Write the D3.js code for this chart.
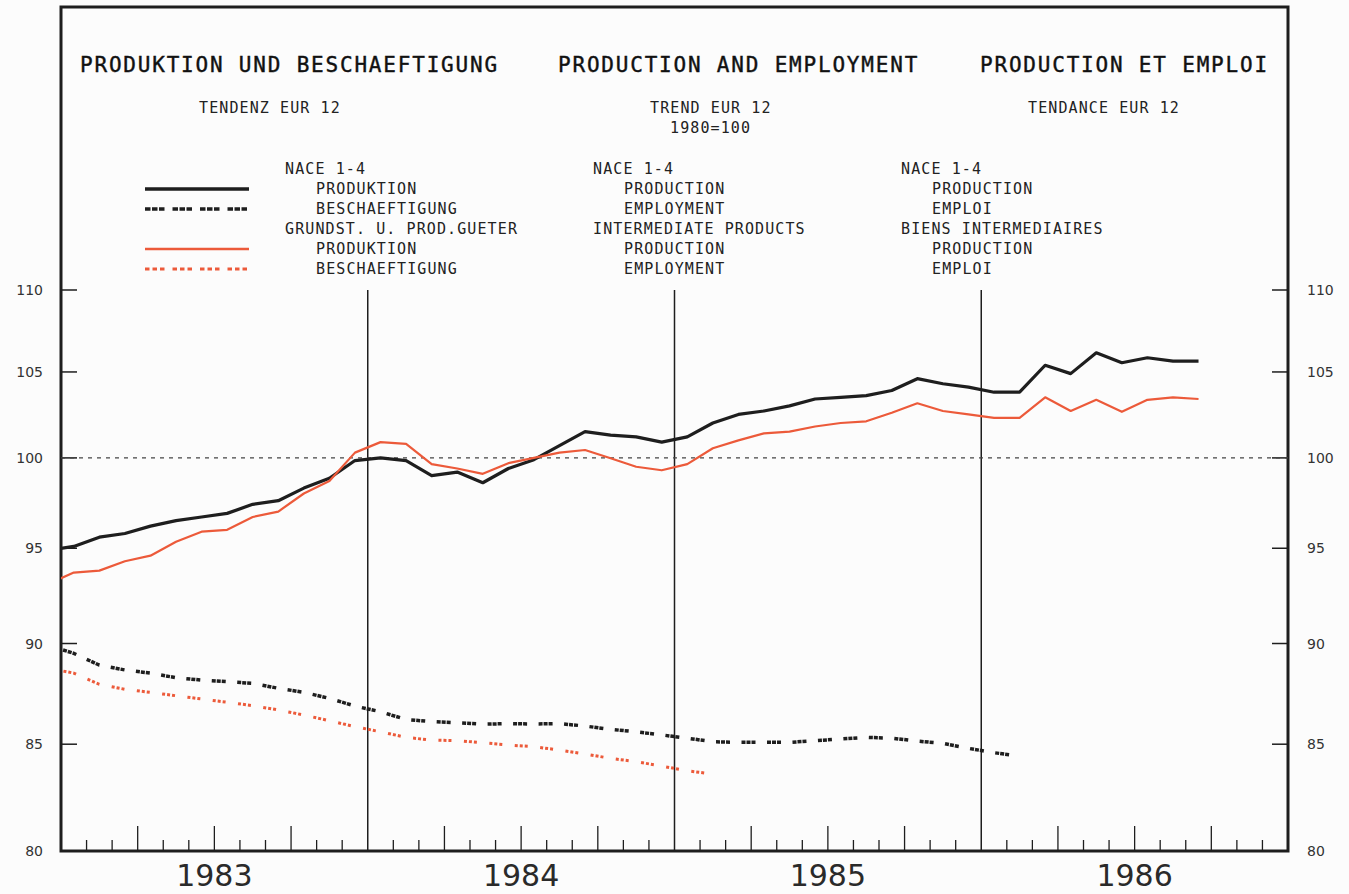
<!DOCTYPE html>
<html>
<head>
<meta charset="utf-8">
<style>

body {
  margin: 0;
  background: #fcfcfc;
  width: 1349px;
  height: 894px;
  overflow: hidden;
}

.plotter {
  font-family: "DejaVu Sans Mono", monospace;
  fill: #222;
}

.ytick text {
  font-family: "DejaVu Sans", sans-serif;
  font-size: 14px;
  fill: #333;
}

.year {
  font-family: "DejaVu Sans", sans-serif;
  font-size: 30px;
  fill: #2a2a2a;
}

</style>
</head>

<body>
<svg width="1349" height="894"></svg>
<script src="https://d3js.org/d3.v7.min.js"></script>
<script>

// monthly values, first value = Dec 1982 (month index -1)
var prodNace = [94.9,
  95.1, 95.6, 95.8, 96.2, 96.5, 96.7, 96.9, 97.4, 97.6, 98.3, 98.85, 99.85,
  100.0, 99.85, 99.0, 99.2, 98.6, 99.4, 99.9, 100.7, 101.5, 101.3, 101.2, 100.9,
  101.2, 102.0, 102.5, 102.7, 103.0, 103.4, 103.5, 103.6, 103.9, 104.6, 104.3, 104.1,
  103.8, 103.8, 105.4, 104.9, 106.15, 105.55, 105.85, 105.65, 105.65];

var empNace = [89.9,
  89.5, 88.9, 88.66, 88.5, 88.27, 88.15, 88.07, 87.99, 87.74, 87.54, 87.24, 86.86,
  86.58, 86.2, 86.1, 86.04, 85.97, 86.0, 85.98, 86.0, 85.88, 85.72, 85.6, 85.45,
  85.29, 85.12, 85.09, 85.09, 85.09, 85.17, 85.25, 85.33, 85.29, 85.15, 85.04, 84.8,
  84.59, 84.43];

var prodInter = [93.1,
  93.7, 93.8, 94.3, 94.6, 95.35, 95.9, 96.0, 96.7, 97.0, 98.0, 98.7, 100.3,
  100.9, 100.8, 99.65, 99.4, 99.1, 99.7, 100.0, 100.3, 100.45, 99.98, 99.5, 99.3,
  99.65, 100.55, 101.0, 101.4, 101.5, 101.8, 102.0, 102.1, 102.6, 103.15, 102.7, 102.5,
  102.3, 102.3, 103.5, 102.7, 103.35, 102.65, 103.35, 103.5, 103.4];

var empInter = [88.75,
  88.5, 87.94, 87.69, 87.54, 87.37, 87.21, 87.05, 86.88, 86.67, 86.42, 86.14, 85.85,
  85.6, 85.33, 85.2, 85.17, 85.07, 84.96, 84.88, 84.72, 84.53, 84.32, 84.16, 83.95,
  83.73, 83.57];

var years = ["1983", "1984", "1985", "1986"];
var yTicks = [80, 85, 90, 95, 100, 105, 110];

var titles = ["PRODUKTION UND BESCHAEFTIGUNG", "PRODUCTION AND EMPLOYMENT", "PRODUCTION ET EMPLOI"];
var subtitles = ["TENDENZ EUR 12", "TREND EUR 12", "TENDANCE EUR 12"];
var legendDe = ["NACE 1-4", "PRODUKTION", "BESCHAEFTIGUNG", "GRUNDST. U. PROD.GUETER", "PRODUKTION", "BESCHAEFTIGUNG"];
var legendEn = ["NACE 1-4", "PRODUCTION", "EMPLOYMENT", "INTERMEDIATE PRODUCTS", "PRODUCTION", "EMPLOYMENT"];
var legendFr = ["NACE 1-4", "PRODUCTION", "EMPLOI", "BIENS INTERMEDIAIRES", "PRODUCTION", "EMPLOI"];

var svg = d3.select("svg"),
    plotLeft = 61, plotRight = 1288, plotTop = 7, plotBottom = 851;

var ink = "#1e1e1e", red = "#ec5a3a";

// months since Jan 1983, 4 years
var x = d3.scaleLinear().domain([0, 48]).range([plotLeft, plotRight]);
// the original is drawn on a log scale
var y = d3.scaleLog().domain([80, 110]).range([plotBottom, 290]);

svg.append("defs").append("clipPath")
    .attr("id", "clip")
  .append("rect")
    .attr("x", plotLeft).attr("y", plotTop)
    .attr("width", plotRight - plotLeft).attr("height", plotBottom - plotTop);

// titles
svg.selectAll(".title")
    .data(titles)
  .enter().append("text")
    .attr("class", "plotter")
    .attr("x", function(d, i) { return [80, 558, 980][i]; })
    .attr("y", 72)
    .style("font-size", "21px")
    .style("letter-spacing", "1.8px")
    .style("fill", "#111")
    .style("stroke", "#111")
    .style("stroke-width", 0.4)
    .text(function(d) { return d; });

svg.selectAll(".sub")
    .data(subtitles)
  .enter().append("text")
    .attr("class", "plotter")
    .attr("x", function(d, i) { return [199, 650, 1028][i]; })
    .attr("y", 113)
    .style("font-size", "15px")
    .style("letter-spacing", "1.1px")
    .text(function(d) { return d; });

svg.append("text")
    .attr("class", "plotter")
    .attr("x", 670).attr("y", 133)
    .style("font-size", "15px")
    .style("letter-spacing", "1.1px")
    .text("1980=100");

// legend texts
function legendColumn(items, x0) {
  svg.append("g").selectAll("text")
      .data(items)
    .enter().append("text")
      .attr("class", "plotter")
      .attr("x", function(d, i) { return (i === 0 || i === 3) ? x0 : x0 + 31; })
      .attr("y", function(d, i) { return 174 + i * 20; })
      .style("font-size", "15px")
      .style("letter-spacing", "1.1px")
      .text(function(d) { return d; });
}
legendColumn(legendDe, 285);
legendColumn(legendEn, 593);
legendColumn(legendFr, 901);

var blackDash = "4,1,4,1,4,11.5",
    redDash = "3,2,3,2,3,12.5";

var swatches = [
  {row: 1, color: ink, width: 3.5, dash: null},
  {row: 2, color: ink, width: 3.5, dash: "5.5,1.5,5.5,1.5,5.5,8"},
  {row: 4, color: red, width: 2.5, dash: null},
  {row: 5, color: red, width: 3, dash: "4.5,3,4.5,3,4.5,8"}
];

svg.append("g").selectAll("line")
    .data(swatches)
  .enter().append("line")
    .attr("x1", 145).attr("x2", 249)
    .attr("y1", function(d) { return 169 + d.row * 20; })
    .attr("y2", function(d) { return 169 + d.row * 20; })
    .attr("stroke", function(d) { return d.color; })
    .attr("stroke-width", function(d) { return d.width; })
    .attr("stroke-dasharray", function(d) { return d.dash; });

// frame
svg.append("rect")
    .attr("x", plotLeft).attr("y", plotTop)
    .attr("width", plotRight - plotLeft).attr("height", plotBottom - plotTop)
    .attr("fill", "none")
    .attr("stroke", ink)
    .attr("stroke-width", 3);

// y ticks both sides
var yt = svg.append("g").attr("class", "ytick");
yTicks.forEach(function(v) {
  yt.append("line")
      .attr("x1", plotLeft).attr("x2", plotLeft + 16)
      .attr("y1", y(v)).attr("y2", y(v))
      .attr("stroke", ink).attr("stroke-width", 1.5);
  yt.append("line")
      .attr("x1", plotRight - 16).attr("x2", plotRight)
      .attr("y1", y(v)).attr("y2", y(v))
      .attr("stroke", ink).attr("stroke-width", 1.5);
  yt.append("text")
      .attr("x", 43).attr("y", y(v) + 5)
      .attr("text-anchor", "end")
      .text(v);
  yt.append("text")
      .attr("x", 1307).attr("y", y(v) + 5)
      .text(v);
});

// month ticks, year separators
var months = d3.range(1, 48);
svg.append("g").selectAll("line")
    .data(months.filter(function(m) { return m % 12 !== 0; }))
  .enter().append("line")
    .attr("x1", function(m) { return x(m); })
    .attr("x2", function(m) { return x(m); })
    .attr("y1", plotBottom)
    .attr("y2", function(m) { return m % 3 === 0 ? plotBottom - 25 : plotBottom - 11; })
    .attr("stroke", ink).attr("stroke-width", 1.3);

svg.append("g").selectAll("line")
    .data([12, 24, 36])
  .enter().append("line")
    .attr("x1", function(m) { return x(m); })
    .attr("x2", function(m) { return x(m); })
    .attr("y1", y(110)).attr("y2", plotBottom)
    .attr("stroke", ink).attr("stroke-width", 1.5);

svg.selectAll(".year")
    .data(years)
  .enter().append("text")
    .attr("class", "year")
    .attr("x", function(d, i) { return x(i * 12 + 6); })
    .attr("y", 886)
    .attr("text-anchor", "middle")
    .text(function(d) { return d; });

// 1980 = 100 reference
svg.append("line")
    .attr("x1", plotLeft).attr("x2", plotRight)
    .attr("y1", y(100)).attr("y2", y(100))
    .attr("stroke", "#444").attr("stroke-width", 1.2)
    .attr("stroke-dasharray", "4,5");

// series, points at mid-month
var line = d3.line()
    .x(function(d, i) { return x(i - 0.5); })
    .y(function(d) { return y(d); });

var plot = svg.append("g").attr("clip-path", "url(#clip)");

plot.append("path").datum(empNace)
    .attr("d", line)
    .attr("fill", "none").attr("stroke", ink).attr("stroke-width", 3.5)
    .attr("stroke-dasharray", blackDash).attr("stroke-dashoffset", 10);

plot.append("path").datum(empInter)
    .attr("d", line)
    .attr("fill", "none").attr("stroke", red).attr("stroke-width", 3)
    .attr("stroke-dasharray", redDash).attr("stroke-dashoffset", 10);

plot.append("path").datum(prodNace)
    .attr("d", line)
    .attr("fill", "none").attr("stroke", ink).attr("stroke-width", 3.2)
    .attr("stroke-linejoin", "round");

plot.append("path").datum(prodInter)
    .attr("d", line)
    .attr("fill", "none").attr("stroke", red).attr("stroke-width", 2.2)
    .attr("stroke-linejoin", "round");

</script>
</body>
</html>
